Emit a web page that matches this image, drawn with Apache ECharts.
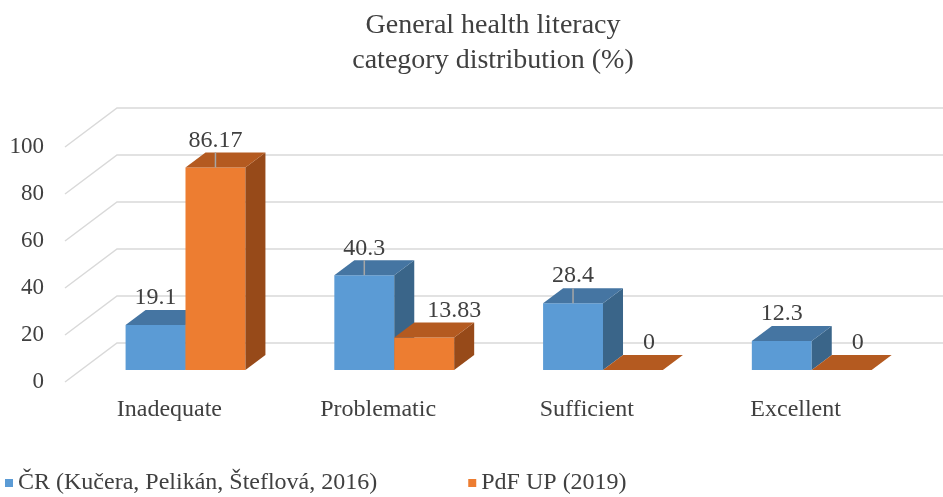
<!DOCTYPE html>
<html>
<head>
<meta charset="utf-8">
<script src="https://cdn.jsdelivr.net/npm/echarts@6/dist/echarts.min.js"></script>
<style>
  html, body { margin: 0; padding: 0; background: #fff; }
  #box { width: 943px; height: 497px; }
</style>
</head>
<body>
<div id="box"></div>
<script>
// data
const categories = ['Inadequate', 'Problematic', 'Sufficient', 'Excellent'];
const crValues = [19.1, 40.3, 28.4, 12.3];
const pdfValues = [86.17, 13.83, 0, 0];
const yTicks = [0, 20, 40, 60, 80, 100];
const seriesNames = ['ČR (Kučera, Pelikán, Šteflová, 2016)', 'PdF UP (2019)'];

// 3D look: depth vector from front plane to back wall
const DX = 52, DY = -39;
const FRONT = 0.31, DEPTH = 0.385;
const FONT = 'Liberation Serif, Times New Roman, serif';
const TXT = '#404040';

const colors = [
  { front: '#5B9BD5', top: '#4575A2', side: '#3A6589' },
  { front: '#ED7D31', top: '#B45A20', side: '#974A19' }
];

function barRender(sIdx) {
  return function (params, api) {
    const i = api.value(0), v = api.value(1);
    const bw = api.size([1, 0])[0];
    const w = bw * 0.287;
    const c = api.coord([i, v]);
    const base = api.coord([i, 0]);
    const x0 = sIdx === 0 ? c[0] - w : c[0];
    const left = x0 + DX * FRONT, right = left + w;
    const top = c[1] + DY * FRONT, bottom = base[1] + DY * FRONT;
    const ddx = DX * DEPTH, ddy = DY * DEPTH;
    const col = colors[sIdx];
    const children = [];
    if (v > 0) {
      children.push({ type: 'rect', shape: { x: left, y: top, width: w, height: bottom - top },
        style: { fill: col.front } });
      children.push({ type: 'polygon', shape: { points: [[right, top], [right + ddx, top + ddy], [right + ddx, bottom + ddy], [right, bottom]] },
        style: { fill: col.side } });
    }
    children.push({ type: 'polygon', shape: { points: [[left, top], [right, top], [right + ddx, top + ddy], [left + ddx, top + ddy]] },
      style: { fill: col.top } });
    // excel pushes the short orange labels a bit to the right
    let lx = left + w / 2;
    if (sIdx === 1 && v < 20) lx += v > 0 ? 30 : 16;
    if (v > 25) {
      children.push({ type: 'line', shape: { x1: lx, y1: top + ddy, x2: lx, y2: top },
        style: { stroke: '#a6a6a6', lineWidth: 1.5 } });
    }
    children.push({ type: 'text', x: lx, y: top - 27,
      style: { text: String(v), fill: TXT, font: '24px ' + FONT, align: 'center', verticalAlign: 'middle' } });
    return { type: 'group', children: children };
  };
}

const myChart = echarts.init(document.getElementById('box'));
const option = {
  animation: false,
  title: {
    text: 'General health literacy\ncategory distribution (%)',
    left: 488,
    top: 3,
    textAlign: 'center',
    textStyle: { fontFamily: FONT, fontSize: 28, fontWeight: 'normal', color: TXT, lineHeight: 35 }
  },
  legend: {
    data: seriesNames,
    left: 5,
    top: 471,
    padding: 0,
    icon: 'rect',
    itemWidth: 8,
    itemHeight: 8,
    itemGap: 91,
    textStyle: { fontFamily: FONT, fontSize: 24, color: TXT }
  },
  grid: { left: 65, right: 43, top: 147, bottom: 115 },
  xAxis: {
    type: 'category',
    data: categories,
    axisLine: { show: false },
    axisTick: { show: false },
    axisLabel: { fontFamily: FONT, fontSize: 24, color: TXT, margin: 16 }
  },
  yAxis: {
    type: 'value',
    min: 0, max: 100, interval: 20,
    axisLine: { show: false },
    axisTick: { show: false },
    splitLine: { show: false },
    axisLabel: { fontFamily: FONT, fontSize: 23, color: TXT, margin: 21 }
  },
  series: [
    {
      type: 'custom',
      silent: true,
      clip: false,
      z: 1,
      data: yTicks.map(t => [0, t]),
      renderItem: function (params, api) {
        const y = api.coord([0, api.value(1)])[1];
        const gx = params.coordSys.x;
        return { type: 'polyline',
          shape: { points: [[gx, y], [gx + DX, y + DY], [960, y + DY]] },
          style: { stroke: '#d9d9d9', lineWidth: 1.5, fill: null } };
      }
    },
    {
      name: seriesNames[0],
      type: 'custom',
      clip: false,
      z: 2,
      itemStyle: { color: colors[0].front },
      data: crValues.map((v, i) => [i, v]),
      renderItem: barRender(0)
    },
    {
      name: seriesNames[1],
      type: 'custom',
      clip: false,
      z: 3,
      itemStyle: { color: colors[1].front },
      data: pdfValues.map((v, i) => [i, v]),
      renderItem: barRender(1)
    }
  ]
};
myChart.setOption(option);
window.onresize = function () { myChart.resize(); };
</script>
</body>
</html>
